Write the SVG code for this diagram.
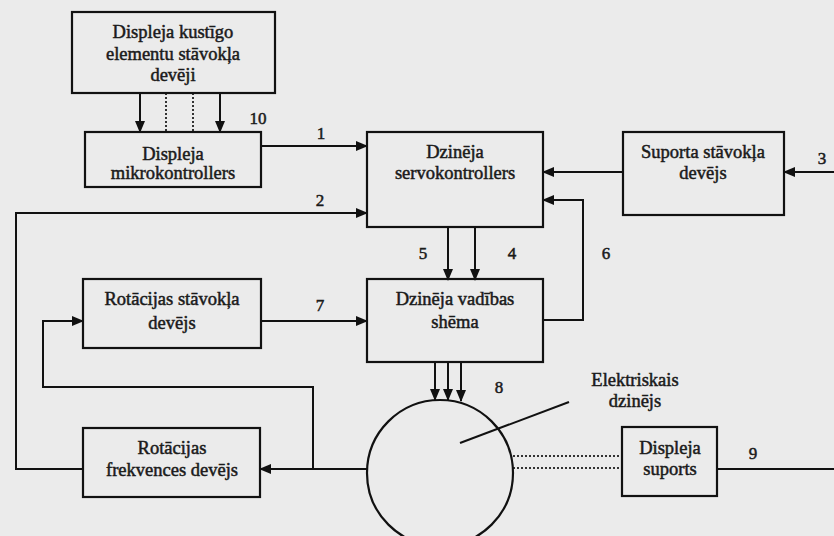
<svg xmlns="http://www.w3.org/2000/svg" width="834" height="536" viewBox="0 0 834 536" font-family="'Liberation Serif', 'Times New Roman', serif">
<defs>
<marker id="ah" markerWidth="12" markerHeight="10" refX="11" refY="5" orient="auto" markerUnits="userSpaceOnUse">
<path d="M0,0 L12,5 L0,10 Z" fill="#111"/>
</marker>
<style>
.box{fill:none;stroke:#111;stroke-width:2.2}
.ln{fill:none;stroke:#111;stroke-width:2}
.dot{fill:none;stroke:#333;stroke-width:2;stroke-dasharray:2 2}
text{font-family:'Liberation Serif','Times New Roman',serif;font-size:18.5px;fill:#1a1a1a;text-anchor:middle;stroke:#1a1a1a;stroke-width:0.5}
.num{font-size:17px}
</style>
</defs>
<rect x="0" y="0" width="834" height="536" fill="#ebebeb"/>

<g id="connectors">
<line class="ln" x1="140" y1="93" x2="140" y2="132" marker-end="url(#ah)"/>
<line class="ln" x1="220" y1="93" x2="220" y2="132" marker-end="url(#ah)"/>
<line class="dot" x1="166" y1="93" x2="166" y2="132"/>
<line class="dot" x1="193" y1="93" x2="193" y2="132"/>
<line class="ln" x1="261" y1="146" x2="367" y2="146" marker-end="url(#ah)"/>
<polyline class="ln" points="83,469 16,469 16,213 367,213" marker-end="url(#ah)"/>
<line class="ln" x1="623" y1="172" x2="543" y2="172" marker-end="url(#ah)"/>
<line class="ln" x1="834" y1="172" x2="784" y2="172" marker-end="url(#ah)"/>
<polyline class="ln" points="543,320 583,320 583,200 543,200" marker-end="url(#ah)"/>
<line class="ln" x1="448" y1="227" x2="448" y2="280" marker-end="url(#ah)"/>
<line class="ln" x1="475" y1="227" x2="475" y2="280" marker-end="url(#ah)"/>
<line class="ln" x1="261" y1="321" x2="367" y2="321" marker-end="url(#ah)"/>
<line class="ln" x1="435" y1="362" x2="435" y2="400" marker-end="url(#ah)"/>
<line class="ln" x1="448" y1="362" x2="448" y2="400" marker-end="url(#ah)"/>
<line class="ln" x1="461" y1="362" x2="461" y2="401" marker-end="url(#ah)"/>
<line class="ln" x1="367" y1="469" x2="260" y2="469" marker-end="url(#ah)"/>
<polyline class="ln" points="313,469 313,387 43,387 43,321 83,321" marker-end="url(#ah)"/>
<line class="dot" x1="513" y1="456" x2="622" y2="456"/>
<line class="dot" x1="513" y1="468" x2="622" y2="468"/>
<line class="ln" x1="717" y1="469" x2="834" y2="469"/>
<line class="ln" x1="460" y1="443" x2="569" y2="402"/>
</g>

<g id="labels">
<text class="num" x="258" y="124">10</text>
<text class="num" x="321" y="139">1</text>
<text class="num" x="320" y="206">2</text>
<text class="num" x="822" y="164">3</text>
<text class="num" x="512" y="259">4</text>
<text class="num" x="423" y="259">5</text>
<text class="num" x="606" y="259">6</text>
<text class="num" x="320" y="311">7</text>
<text class="num" x="499" y="393">8</text>
<text class="num" x="753" y="459">9</text>
</g>

<g id="n-sensors">
<rect class="box" x="72" y="12" width="203" height="81"/>
<text x="173" y="38">Displeja kustīgo</text>
<text x="173" y="60">elementu stāvokļa</text>
<text x="173" y="81">devēji</text>
</g>

<g id="n-micro">
<rect class="box" x="85" y="132" width="176" height="55"/>
<text x="173" y="160">Displeja</text>
<text x="173" y="179">mikrokontrollers</text>
</g>

<g id="n-servo">
<rect class="box" x="367" y="132" width="176" height="95"/>
<text x="455" y="158">Dzinēja</text>
<text x="455" y="179">servokontrollers</text>
</g>

<g id="n-suport">
<rect class="box" x="623" y="132" width="161" height="83"/>
<text x="703" y="158">Suporta stāvokļa</text>
<text x="703" y="179">devējs</text>
</g>

<g id="n-rotpos">
<rect class="box" x="83" y="279" width="178" height="69"/>
<text x="172" y="305">Rotācijas stāvokļa</text>
<text x="172" y="329">devējs</text>
</g>

<g id="n-drive">
<rect class="box" x="367" y="279" width="176" height="83"/>
<text x="455" y="305">Dzinēja vadības</text>
<text x="455" y="328">shēma</text>
</g>

<g id="n-freq">
<rect class="box" x="83" y="428" width="177" height="69"/>
<text x="172" y="454">Rotācijas</text>
<text x="172" y="476">frekvences devējs</text>
</g>

<g id="n-motor">
<circle class="box" cx="440" cy="473" r="73"/>
<text x="635" y="386">Elektriskais</text>
<text x="635" y="407">dzinējs</text>
</g>

<g id="n-dispsup">
<rect class="box" x="622" y="427" width="95" height="69"/>
<text x="670" y="454">Displeja</text>
<text x="670" y="475">suports</text>
</g>
</svg>
